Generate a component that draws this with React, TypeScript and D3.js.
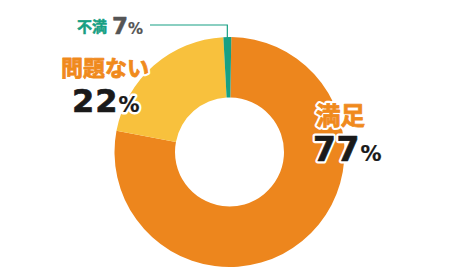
import React from "react";
import * as d3 from "d3";

const categories = ["満足", "問題ない", "不満"];
const sliceValues = [77.7, 21.2, 1.1];
const percentLabels = ["77", "22", "7"];
const colors = ["#ED861D", "#F8C13D", "#17A083"];

const W = 460;
const H = 280;
const cx = 229.5;
const cy = 152;
const rOuter = 115;
const rInner = 54.5;
const startOffset = (0.9 * Math.PI) / 180;

const JP = "'Noto Sans CJK JP', 'Noto Sans', sans-serif";
const NUM = "'DejaVu Sans', 'Noto Sans', sans-serif";

function Outlined(props: {
  x: number;
  y: number;
  children: React.ReactNode;
  fill?: string;
  fontSize?: number;
  fontFamily?: string;
  bold?: number;
  letterSpacing?: number;
}) {
  const { x, y, children, fill, fontSize, fontFamily, bold = 0.6, letterSpacing = 0 } = props;
  return (
    <g>
      <text
        x={x}
        y={y}
        fontFamily={fontFamily}
        fontWeight={700}
        fontSize={fontSize}
        letterSpacing={letterSpacing}
        fill="#fff"
        stroke="#fff"
        strokeWidth={5}
        strokeLinejoin="round"
      >
        {children}
      </text>
      <text
        x={x}
        y={y}
        fontFamily={fontFamily}
        fontWeight={700}
        fontSize={fontSize}
        letterSpacing={letterSpacing}
        fill={fill}
        stroke={fill}
        strokeWidth={bold}
        strokeLinejoin="round"
      >
        {children}
      </text>
    </g>
  );
}

export default function App() {
  const pie = d3
    .pie<number>()
    .sort(null)
    .value((d) => d)
    .startAngle(startOffset)
    .endAngle(startOffset + 2 * Math.PI);
  const arcs = pie(sliceValues);
  const arc = d3.arc<d3.PieArcDatum<number>>().innerRadius(rInner).outerRadius(rOuter);

  const g = arcs[2];
  const gm = (g.startAngle + g.endAngle) / 2;
  const lx = cx + Math.sin(gm) * rOuter;
  const ly = cy - Math.cos(gm) * rOuter;
  const lineY = 25;

  return (
    <svg
      width={W}
      height={H}
      style={{ position: "absolute", left: 0, top: 0, background: "#fff" }}
    >
      <g transform={`translate(${cx},${cy})`}>
        {arcs.map((a, i) => (
          <path key={categories[i]} d={arc(a) || ""} fill={colors[i]} />
        ))}
      </g>
      <polyline
        points={`150,${lineY} ${lx},${lineY} ${lx},${ly + 1}`}
        fill="none"
        stroke={colors[2]}
        strokeWidth={1.2}
      />
      {/* 不満 */}
      <Outlined x={77} y={32} fontFamily={JP} fontSize={15} fill={colors[2]} bold={0.5}>
        {categories[2]}
      </Outlined>
      <Outlined x={112} y={34} fontFamily={NUM} fontSize={23} fill="#555" bold={0.5}>
        {percentLabels[2]}
      </Outlined>
      <Outlined x={128} y={34} fontFamily={NUM} fontSize={15} fill="#555" bold={0.2}>
        %
      </Outlined>
      {/* 問題ない */}
      <Outlined x={61} y={76} fontFamily={JP} fontSize={22} fill="#F08A1C" bold={0.8}>
        {categories[1]}
      </Outlined>
      <Outlined x={72} y={112} fontFamily={NUM} fontSize={32} fill="#1a1a1a" bold={0.7} letterSpacing={1}>
        {percentLabels[1]}
      </Outlined>
      <Outlined x={118.5} y={112} fontFamily={NUM} fontSize={21} fill="#1a1a1a" bold={0.2}>
        %
      </Outlined>
      {/* 満足 */}
      <Outlined x={316} y={125} fontFamily={JP} fontSize={24.5} fill="#F08A1C" bold={0.8}>
        {categories[0]}
      </Outlined>
      <Outlined x={313} y={161} fontFamily={NUM} fontSize={33} fill="#1a1a1a" bold={0.7} letterSpacing={0.5}>
        {percentLabels[0]}
      </Outlined>
      <Outlined x={360.5} y={161} fontFamily={NUM} fontSize={21} fill="#1a1a1a" bold={0.2}>
        %
      </Outlined>
    </svg>
  );
}
